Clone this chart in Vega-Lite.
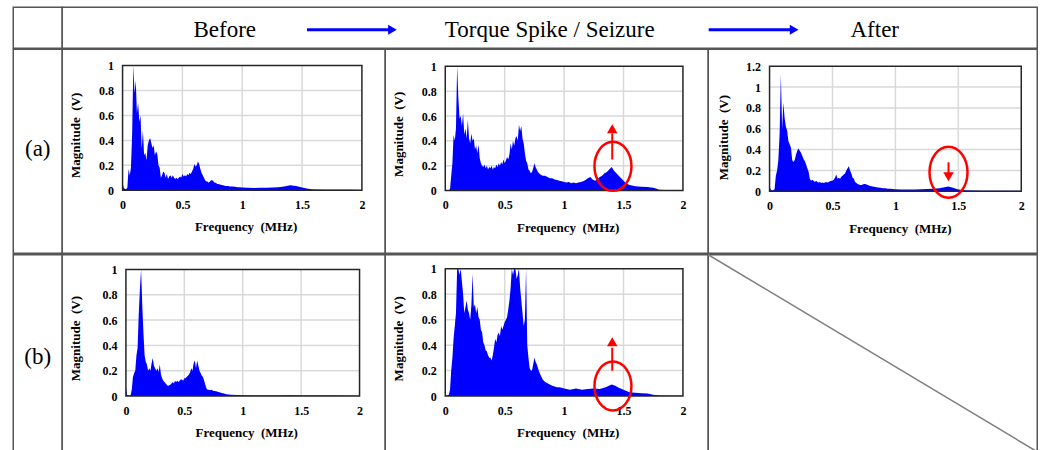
{
"$schema": "https://vega.github.io/schema/vega-lite/v6.json",
"background": "white",
"padding": {"left": 12.25, "top": 6.25, "right": 0, "bottom": 0},
"spacing": -1.5,
"config": {
  "view": {"stroke": "#555555", "strokeWidth": 1.5},
  "axis": {"domain": false, "ticks": false, "grid": false, "labelFont": "Liberation Serif", "labelFontWeight": "bold", "labelFontSize": 12, "labelColor": "#000000", "labelFlush": false, "labelOverlap": false, "tickCount": 20},
  "text": {"font": "Liberation Serif", "color": "#000000"}
},
"datasets": {
"a1": [{"f":0,"m":0.06},{"f":0.01,"m":0.02},{"f":0.02,"m":0.01},{"f":0.03,"m":0.01},{"f":0.04,"m":0.02},{"f":0.05,"m":0.17},{"f":0.06,"m":0.12},{"f":0.07,"m":0.18},{"f":0.08,"m":0.45},{"f":0.09,"m":1.0},{"f":0.1,"m":0.78},{"f":0.11,"m":0.88},{"f":0.12,"m":0.62},{"f":0.13,"m":0.7},{"f":0.14,"m":0.55},{"f":0.15,"m":0.6},{"f":0.16,"m":0.33},{"f":0.17,"m":0.48},{"f":0.18,"m":0.28},{"f":0.19,"m":0.3},{"f":0.2,"m":0.24},{"f":0.21,"m":0.36},{"f":0.22,"m":0.4},{"f":0.23,"m":0.42},{"f":0.24,"m":0.38},{"f":0.25,"m":0.34},{"f":0.26,"m":0.36},{"f":0.27,"m":0.28},{"f":0.28,"m":0.31},{"f":0.29,"m":0.29},{"f":0.3,"m":0.2},{"f":0.31,"m":0.18},{"f":0.32,"m":0.1},{"f":0.33,"m":0.12},{"f":0.34,"m":0.15},{"f":0.35,"m":0.14},{"f":0.36,"m":0.1},{"f":0.37,"m":0.13},{"f":0.38,"m":0.09},{"f":0.39,"m":0.11},{"f":0.4,"m":0.12},{"f":0.41,"m":0.1},{"f":0.42,"m":0.12},{"f":0.43,"m":0.1},{"f":0.44,"m":0.09},{"f":0.45,"m":0.1},{"f":0.46,"m":0.09},{"f":0.47,"m":0.1},{"f":0.48,"m":0.11},{"f":0.49,"m":0.1},{"f":0.5,"m":0.13},{"f":0.51,"m":0.11},{"f":0.52,"m":0.12},{"f":0.53,"m":0.11},{"f":0.54,"m":0.13},{"f":0.55,"m":0.12},{"f":0.56,"m":0.14},{"f":0.57,"m":0.13},{"f":0.58,"m":0.15},{"f":0.59,"m":0.17},{"f":0.6,"m":0.21},{"f":0.61,"m":0.19},{"f":0.62,"m":0.2},{"f":0.63,"m":0.23},{"f":0.64,"m":0.21},{"f":0.65,"m":0.17},{"f":0.66,"m":0.14},{"f":0.67,"m":0.12},{"f":0.68,"m":0.1},{"f":0.69,"m":0.08},{"f":0.7,"m":0.07},{"f":0.71,"m":0.07},{"f":0.72,"m":0.06},{"f":0.73,"m":0.07},{"f":0.74,"m":0.08},{"f":0.75,"m":0.08},{"f":0.76,"m":0.07},{"f":0.77,"m":0.06},{"f":0.78,"m":0.06},{"f":0.79,"m":0.05},{"f":0.8,"m":0.05},{"f":0.82,"m":0.045},{"f":0.84,"m":0.04},{"f":0.86,"m":0.035},{"f":0.88,"m":0.035},{"f":0.9,"m":0.03},{"f":0.92,"m":0.03},{"f":0.94,"m":0.028},{"f":0.96,"m":0.025},{"f":0.98,"m":0.025},{"f":1.0,"m":0.022},{"f":1.05,"m":0.02},{"f":1.1,"m":0.018},{"f":1.15,"m":0.02},{"f":1.2,"m":0.02},{"f":1.25,"m":0.022},{"f":1.3,"m":0.025},{"f":1.35,"m":0.03},{"f":1.4,"m":0.04},{"f":1.45,"m":0.035},{"f":1.5,"m":0.022},{"f":1.55,"m":0.012},{"f":1.6,"m":0.006},{"f":1.7,"m":0.005},{"f":1.8,"m":0.004},{"f":1.9,"m":0.004},{"f":2.0,"m":0.003}],
"a2": [{"f":0,"m":0.005},{"f":0.01,"m":0.005},{"f":0.02,"m":0.004},{"f":0.03,"m":0.005},{"f":0.04,"m":0.01},{"f":0.05,"m":0.12},{"f":0.06,"m":0.22},{"f":0.07,"m":0.45},{"f":0.08,"m":0.4},{"f":0.09,"m":0.5},{"f":0.1,"m":1.0},{"f":0.11,"m":0.75},{"f":0.12,"m":0.58},{"f":0.13,"m":0.6},{"f":0.14,"m":0.52},{"f":0.15,"m":0.62},{"f":0.16,"m":0.45},{"f":0.17,"m":0.5},{"f":0.18,"m":0.42},{"f":0.19,"m":0.57},{"f":0.2,"m":0.42},{"f":0.21,"m":0.38},{"f":0.22,"m":0.46},{"f":0.23,"m":0.4},{"f":0.24,"m":0.42},{"f":0.25,"m":0.33},{"f":0.26,"m":0.36},{"f":0.27,"m":0.3},{"f":0.28,"m":0.37},{"f":0.29,"m":0.26},{"f":0.3,"m":0.22},{"f":0.31,"m":0.2},{"f":0.32,"m":0.19},{"f":0.33,"m":0.21},{"f":0.34,"m":0.18},{"f":0.35,"m":0.2},{"f":0.36,"m":0.17},{"f":0.37,"m":0.19},{"f":0.38,"m":0.18},{"f":0.39,"m":0.2},{"f":0.4,"m":0.17},{"f":0.41,"m":0.19},{"f":0.42,"m":0.18},{"f":0.43,"m":0.21},{"f":0.44,"m":0.19},{"f":0.45,"m":0.22},{"f":0.46,"m":0.2},{"f":0.47,"m":0.23},{"f":0.48,"m":0.21},{"f":0.49,"m":0.25},{"f":0.5,"m":0.22},{"f":0.51,"m":0.24},{"f":0.52,"m":0.27},{"f":0.53,"m":0.25},{"f":0.54,"m":0.29},{"f":0.55,"m":0.38},{"f":0.56,"m":0.33},{"f":0.57,"m":0.4},{"f":0.58,"m":0.36},{"f":0.59,"m":0.42},{"f":0.6,"m":0.44},{"f":0.61,"m":0.4},{"f":0.62,"m":0.53},{"f":0.63,"m":0.48},{"f":0.64,"m":0.52},{"f":0.65,"m":0.42},{"f":0.66,"m":0.38},{"f":0.67,"m":0.3},{"f":0.68,"m":0.24},{"f":0.69,"m":0.22},{"f":0.7,"m":0.17},{"f":0.71,"m":0.16},{"f":0.72,"m":0.14},{"f":0.73,"m":0.15},{"f":0.74,"m":0.18},{"f":0.75,"m":0.22},{"f":0.76,"m":0.19},{"f":0.77,"m":0.17},{"f":0.78,"m":0.15},{"f":0.79,"m":0.14},{"f":0.8,"m":0.13},{"f":0.82,"m":0.12},{"f":0.84,"m":0.12},{"f":0.86,"m":0.11},{"f":0.88,"m":0.1},{"f":0.9,"m":0.1},{"f":0.92,"m":0.09},{"f":0.94,"m":0.085},{"f":0.96,"m":0.08},{"f":0.98,"m":0.075},{"f":1.0,"m":0.07},{"f":1.02,"m":0.065},{"f":1.04,"m":0.07},{"f":1.06,"m":0.06},{"f":1.08,"m":0.065},{"f":1.1,"m":0.06},{"f":1.12,"m":0.065},{"f":1.14,"m":0.07},{"f":1.16,"m":0.075},{"f":1.18,"m":0.085},{"f":1.2,"m":0.1},{"f":1.22,"m":0.11},{"f":1.24,"m":0.09},{"f":1.26,"m":0.08},{"f":1.28,"m":0.09},{"f":1.3,"m":0.11},{"f":1.32,"m":0.12},{"f":1.34,"m":0.14},{"f":1.36,"m":0.15},{"f":1.38,"m":0.17},{"f":1.4,"m":0.19},{"f":1.42,"m":0.16},{"f":1.44,"m":0.14},{"f":1.46,"m":0.12},{"f":1.48,"m":0.1},{"f":1.5,"m":0.08},{"f":1.52,"m":0.06},{"f":1.55,"m":0.045},{"f":1.6,"m":0.035},{"f":1.65,"m":0.03},{"f":1.7,"m":0.028},{"f":1.75,"m":0.022},{"f":1.78,"m":0.015},{"f":1.8,"m":0.006},{"f":1.9,"m":0.003},{"f":2.0,"m":0.002}],
"a3": [{"f":0,"m":0.05},{"f":0.01,"m":0.015},{"f":0.02,"m":0.01},{"f":0.03,"m":0.01},{"f":0.04,"m":0.02},{"f":0.05,"m":0.15},{"f":0.06,"m":0.2},{"f":0.07,"m":0.3},{"f":0.08,"m":0.55},{"f":0.09,"m":1.12},{"f":0.1,"m":0.6},{"f":0.11,"m":0.85},{"f":0.12,"m":0.7},{"f":0.13,"m":0.62},{"f":0.14,"m":0.58},{"f":0.15,"m":0.48},{"f":0.16,"m":0.45},{"f":0.17,"m":0.42},{"f":0.18,"m":0.3},{"f":0.19,"m":0.28},{"f":0.2,"m":0.3},{"f":0.21,"m":0.35},{"f":0.22,"m":0.39},{"f":0.23,"m":0.41},{"f":0.24,"m":0.39},{"f":0.25,"m":0.37},{"f":0.26,"m":0.34},{"f":0.27,"m":0.31},{"f":0.28,"m":0.29},{"f":0.29,"m":0.26},{"f":0.3,"m":0.22},{"f":0.31,"m":0.19},{"f":0.32,"m":0.12},{"f":0.33,"m":0.1},{"f":0.34,"m":0.11},{"f":0.35,"m":0.1},{"f":0.36,"m":0.09},{"f":0.37,"m":0.1},{"f":0.38,"m":0.09},{"f":0.39,"m":0.085},{"f":0.4,"m":0.09},{"f":0.41,"m":0.08},{"f":0.42,"m":0.085},{"f":0.43,"m":0.08},{"f":0.44,"m":0.085},{"f":0.45,"m":0.09},{"f":0.46,"m":0.085},{"f":0.47,"m":0.09},{"f":0.48,"m":0.095},{"f":0.49,"m":0.1},{"f":0.5,"m":0.1},{"f":0.51,"m":0.11},{"f":0.52,"m":0.13},{"f":0.53,"m":0.16},{"f":0.54,"m":0.12},{"f":0.55,"m":0.13},{"f":0.56,"m":0.12},{"f":0.57,"m":0.14},{"f":0.58,"m":0.15},{"f":0.59,"m":0.16},{"f":0.6,"m":0.17},{"f":0.61,"m":0.2},{"f":0.62,"m":0.22},{"f":0.63,"m":0.24},{"f":0.64,"m":0.2},{"f":0.65,"m":0.17},{"f":0.66,"m":0.13},{"f":0.67,"m":0.12},{"f":0.68,"m":0.09},{"f":0.69,"m":0.08},{"f":0.7,"m":0.07},{"f":0.71,"m":0.065},{"f":0.72,"m":0.06},{"f":0.73,"m":0.06},{"f":0.74,"m":0.065},{"f":0.75,"m":0.07},{"f":0.76,"m":0.07},{"f":0.77,"m":0.065},{"f":0.78,"m":0.06},{"f":0.79,"m":0.055},{"f":0.8,"m":0.05},{"f":0.82,"m":0.045},{"f":0.84,"m":0.04},{"f":0.86,"m":0.035},{"f":0.88,"m":0.033},{"f":0.9,"m":0.03},{"f":0.92,"m":0.028},{"f":0.94,"m":0.025},{"f":0.96,"m":0.023},{"f":0.98,"m":0.022},{"f":1.0,"m":0.02},{"f":1.05,"m":0.018},{"f":1.1,"m":0.017},{"f":1.15,"m":0.018},{"f":1.2,"m":0.02},{"f":1.25,"m":0.022},{"f":1.3,"m":0.025},{"f":1.35,"m":0.03},{"f":1.4,"m":0.04},{"f":1.42,"m":0.045},{"f":1.45,"m":0.035},{"f":1.5,"m":0.018},{"f":1.55,"m":0.01},{"f":1.6,"m":0.008},{"f":1.7,"m":0.006},{"f":1.8,"m":0.005},{"f":1.9,"m":0.005},{"f":2.0,"m":0.004}],
"b1": [{"f":0,"m":0.08},{"f":0.01,"m":0.01},{"f":0.02,"m":0.005},{"f":0.03,"m":0.005},{"f":0.04,"m":0.005},{"f":0.05,"m":0.05},{"f":0.06,"m":0.15},{"f":0.07,"m":0.18},{"f":0.08,"m":0.2},{"f":0.09,"m":0.32},{"f":0.1,"m":0.38},{"f":0.11,"m":0.65},{"f":0.12,"m":0.85},{"f":0.13,"m":1.0},{"f":0.14,"m":0.72},{"f":0.15,"m":0.5},{"f":0.16,"m":0.32},{"f":0.17,"m":0.27},{"f":0.18,"m":0.25},{"f":0.19,"m":0.2},{"f":0.2,"m":0.22},{"f":0.21,"m":0.2},{"f":0.22,"m":0.26},{"f":0.23,"m":0.3},{"f":0.24,"m":0.24},{"f":0.25,"m":0.22},{"f":0.26,"m":0.2},{"f":0.27,"m":0.22},{"f":0.28,"m":0.19},{"f":0.29,"m":0.25},{"f":0.3,"m":0.17},{"f":0.31,"m":0.14},{"f":0.32,"m":0.12},{"f":0.33,"m":0.11},{"f":0.34,"m":0.1},{"f":0.35,"m":0.09},{"f":0.36,"m":0.08},{"f":0.37,"m":0.085},{"f":0.38,"m":0.09},{"f":0.39,"m":0.1},{"f":0.4,"m":0.11},{"f":0.41,"m":0.1},{"f":0.42,"m":0.12},{"f":0.43,"m":0.11},{"f":0.44,"m":0.12},{"f":0.45,"m":0.11},{"f":0.46,"m":0.12},{"f":0.47,"m":0.13},{"f":0.48,"m":0.13},{"f":0.49,"m":0.12},{"f":0.5,"m":0.14},{"f":0.51,"m":0.14},{"f":0.52,"m":0.15},{"f":0.53,"m":0.16},{"f":0.54,"m":0.17},{"f":0.55,"m":0.19},{"f":0.56,"m":0.22},{"f":0.57,"m":0.2},{"f":0.58,"m":0.26},{"f":0.59,"m":0.28},{"f":0.6,"m":0.22},{"f":0.61,"m":0.28},{"f":0.62,"m":0.24},{"f":0.63,"m":0.2},{"f":0.64,"m":0.18},{"f":0.65,"m":0.16},{"f":0.66,"m":0.15},{"f":0.67,"m":0.12},{"f":0.68,"m":0.09},{"f":0.69,"m":0.06},{"f":0.7,"m":0.05},{"f":0.71,"m":0.05},{"f":0.72,"m":0.045},{"f":0.73,"m":0.05},{"f":0.74,"m":0.045},{"f":0.75,"m":0.04},{"f":0.76,"m":0.04},{"f":0.77,"m":0.038},{"f":0.78,"m":0.035},{"f":0.79,"m":0.032},{"f":0.8,"m":0.03},{"f":0.82,"m":0.025},{"f":0.84,"m":0.02},{"f":0.86,"m":0.015},{"f":0.88,"m":0.012},{"f":0.9,"m":0.01},{"f":0.95,"m":0.008},{"f":1.0,"m":0.006},{"f":1.1,"m":0.005},{"f":1.2,"m":0.005},{"f":1.3,"m":0.005},{"f":1.4,"m":0.006},{"f":1.5,"m":0.005},{"f":1.6,"m":0.004},{"f":1.8,"m":0.004},{"f":2.0,"m":0.003}],
"b2": [{"f":0,"m":0.005},{"f":0.01,"m":0.005},{"f":0.02,"m":0.004},{"f":0.03,"m":0.01},{"f":0.04,"m":0.05},{"f":0.05,"m":0.2},{"f":0.06,"m":0.3},{"f":0.07,"m":0.45},{"f":0.08,"m":0.55},{"f":0.09,"m":0.65},{"f":0.1,"m":1.0},{"f":0.11,"m":1.0},{"f":0.12,"m":0.95},{"f":0.13,"m":1.0},{"f":0.14,"m":0.9},{"f":0.15,"m":0.8},{"f":0.16,"m":0.65},{"f":0.17,"m":0.7},{"f":0.18,"m":0.75},{"f":0.19,"m":0.68},{"f":0.2,"m":0.65},{"f":0.21,"m":0.6},{"f":0.22,"m":0.72},{"f":0.23,"m":0.96},{"f":0.24,"m":0.7},{"f":0.25,"m":0.72},{"f":0.26,"m":0.65},{"f":0.27,"m":0.7},{"f":0.28,"m":0.62},{"f":0.29,"m":0.6},{"f":0.3,"m":0.52},{"f":0.31,"m":0.5},{"f":0.32,"m":0.42},{"f":0.33,"m":0.4},{"f":0.34,"m":0.36},{"f":0.35,"m":0.35},{"f":0.36,"m":0.32},{"f":0.37,"m":0.3},{"f":0.38,"m":0.3},{"f":0.39,"m":0.28},{"f":0.4,"m":0.32},{"f":0.41,"m":0.38},{"f":0.42,"m":0.45},{"f":0.43,"m":0.42},{"f":0.44,"m":0.48},{"f":0.45,"m":0.5},{"f":0.46,"m":0.47},{"f":0.47,"m":0.55},{"f":0.48,"m":0.52},{"f":0.49,"m":0.55},{"f":0.5,"m":0.58},{"f":0.51,"m":0.6},{"f":0.52,"m":0.62},{"f":0.53,"m":0.68},{"f":0.54,"m":0.75},{"f":0.55,"m":0.85},{"f":0.56,"m":1.0},{"f":0.57,"m":0.95},{"f":0.58,"m":1.0},{"f":0.59,"m":1.0},{"f":0.6,"m":0.92},{"f":0.61,"m":0.95},{"f":0.62,"m":1.0},{"f":0.63,"m":0.85},{"f":0.64,"m":0.75},{"f":0.65,"m":0.65},{"f":0.66,"m":0.55},{"f":0.67,"m":0.6},{"f":0.68,"m":1.0},{"f":0.69,"m":0.4},{"f":0.7,"m":0.3},{"f":0.71,"m":0.22},{"f":0.72,"m":0.2},{"f":0.73,"m":0.2},{"f":0.74,"m":0.25},{"f":0.75,"m":0.3},{"f":0.76,"m":0.27},{"f":0.77,"m":0.25},{"f":0.78,"m":0.22},{"f":0.79,"m":0.19},{"f":0.8,"m":0.17},{"f":0.82,"m":0.13},{"f":0.84,"m":0.11},{"f":0.86,"m":0.1},{"f":0.88,"m":0.09},{"f":0.9,"m":0.08},{"f":0.92,"m":0.075},{"f":0.94,"m":0.07},{"f":0.96,"m":0.07},{"f":0.98,"m":0.065},{"f":1.0,"m":0.06},{"f":1.05,"m":0.05},{"f":1.1,"m":0.06},{"f":1.15,"m":0.05},{"f":1.2,"m":0.055},{"f":1.25,"m":0.06},{"f":1.3,"m":0.055},{"f":1.35,"m":0.07},{"f":1.4,"m":0.09},{"f":1.43,"m":0.08},{"f":1.46,"m":0.065},{"f":1.5,"m":0.05},{"f":1.55,"m":0.03},{"f":1.6,"m":0.025},{"f":1.65,"m":0.022},{"f":1.7,"m":0.02},{"f":1.75,"m":0.01},{"f":1.8,"m":0.004},{"f":1.9,"m":0.003},{"f":2.0,"m":0.002}]
},
"vconcat": [
{
  "hconcat": [
    {"width": 49, "height": 41, "data": {"values": [{"t": ""}]}, "mark": "text",
     "encoding": {"text": {"field": "t"}, "x": {"datum": 0.5, "scale": {"domain": [0, 1], "nice": false, "zero": false}, "axis": null}, "y": {"datum": 0.5, "scale": {"domain": [0, 1], "nice": false, "zero": false}, "axis": null}}},
    {"width": 975, "height": 41,
     "layer": [
      {"data": {"values": [{"stage": 1, "label": "Before"}, {"stage": 2, "label": "Torque Spike / Seizure"}, {"stage": 3, "label": "After"}]},
       "mark": {"type": "text", "fontSize": 23},
       "encoding": {"text": {"field": "label"}, "x": {"field": "stage", "type": "quantitative", "scale": {"domain": [0.5, 3.5], "nice": false, "zero": false}, "axis": null}, "y": {"datum": 0.451, "scale": {"domain": [0, 1], "nice": false, "zero": false}, "axis": null}}},
      {"data": {"values": [{}]}, "mark": {"type": "rule", "color": "#0000ff", "strokeWidth": 3}, "encoding": {"x": {"datum": 1.253}, "x2": {"datum": 1.51}, "y": {"datum": 0.451}}},
      {"data": {"values": [{}]}, "mark": {"type": "point", "shape": "triangle-right", "size": 100, "filled": true, "color": "#0000ff", "opacity": 1}, "encoding": {"x": {"datum": 1.516}, "y": {"datum": 0.451}}},
      {"data": {"values": [{}]}, "mark": {"type": "rule", "color": "#0000ff", "strokeWidth": 3}, "encoding": {"x": {"datum": 2.489}, "x2": {"datum": 2.745}, "y": {"datum": 0.451}}},
      {"data": {"values": [{}]}, "mark": {"type": "point", "shape": "triangle-right", "size": 100, "filled": true, "color": "#0000ff", "opacity": 1}, "encoding": {"x": {"datum": 2.752}, "y": {"datum": 0.451}}}
     ]}
  ],
  "spacing": 0, "bounds": "flush"
},
{
  "hconcat": [
    {"width": 49, "height": 204, "data": {"values": [{"t": "(a)"}]}, "mark": {"type": "text", "fontSize": 23},
     "encoding": {"text": {"field": "t"}, "x": {"datum": 0.5, "scale": {"domain": [0, 1], "nice": false, "zero": false}, "axis": null}, "y": {"datum": 0.51, "scale": {"domain": [0, 1], "nice": false, "zero": false}, "axis": null}}},
    {"width": 323, "height": 204,
     "layer": [
      {"data": {"values": [{"g": 0.5}, {"g": 1}, {"g": 1.5}]}, "mark": {"type": "rule", "color": "#d9d9d9", "strokeWidth": 1.5}, "encoding": {"x": {"field": "g", "type": "quantitative"}, "y": {"datum": 0}, "y2": {"datum": 1}}},
      {"data": {"values": [{"g": 0.2}, {"g": 0.4}, {"g": 0.6}, {"g": 0.8}]}, "mark": {"type": "rule", "color": "#d9d9d9", "strokeWidth": 1.5}, "encoding": {"y": {"field": "g", "type": "quantitative"}, "x": {"datum": 0}, "x2": {"datum": 2}}},
      {"data": {"name": "a1"}, "mark": {"type": "area", "color": "#0000ff", "opacity": 1},
       "encoding": {
        "x": {"field": "f", "type": "quantitative", "scale": {"domain": [-0.504, 2.195], "nice": false, "zero": false}, "axis": {"values": [0, 0.5, 1, 1.5, 2], "format": "~g", "offset": -63, "labelPadding": 9, "title": null, "tickCount": 20}},
        "y": {"field": "m", "type": "quantitative", "scale": {"domain": [-0.505, 1.131], "nice": false, "zero": false}, "axis": {"values": [0, 0.2, 0.4, 0.6, 0.8, 1], "format": "~g", "offset": -60.3, "labelPadding": 9, "title": null, "tickCount": 20}},
        "y2": {"datum": 0}}},
      {"data": {"values": [{}]}, "mark": {"type": "rect", "fillOpacity": 0, "stroke": "#262626", "strokeWidth": 1.5}, "encoding": {"x": {"datum": 0}, "x2": {"datum": 2}, "y": {"datum": 0}, "y2": {"datum": 1}}},
      {"data": {"values": [{}]}, "mark": {"type": "text", "text": "Frequency\u00a0 (MHz)", "fontWeight": "bold", "fontSize": 13}, "encoding": {"x": {"datum": 1.032}, "y": {"datum": -0.297}}},
      {"data": {"values": [{}]}, "mark": {"type": "text", "text": "Magnitude\u00a0 (V)", "fontWeight": "bold", "fontSize": 13, "angle": 270}, "encoding": {"x": {"datum": -0.387}, "y": {"datum": 0.441}}}
     ]},
    {"width": 323, "height": 204,
     "layer": [
      {"data": {"values": [{"g": 0.5}, {"g": 1}, {"g": 1.5}]}, "mark": {"type": "rule", "color": "#d9d9d9", "strokeWidth": 1.5}, "encoding": {"x": {"field": "g", "type": "quantitative"}, "y": {"datum": 0}, "y2": {"datum": 1}}},
      {"data": {"values": [{"g": 0.2}, {"g": 0.4}, {"g": 0.6}, {"g": 0.8}]}, "mark": {"type": "rule", "color": "#d9d9d9", "strokeWidth": 1.5}, "encoding": {"y": {"field": "g", "type": "quantitative"}, "x": {"datum": 0}, "x2": {"datum": 2}}},
      {"data": {"name": "a2"}, "mark": {"type": "area", "color": "#0000ff", "opacity": 1},
       "encoding": {
        "x": {"field": "f", "type": "quantitative", "scale": {"domain": [-0.505, 2.213], "nice": false, "zero": false}, "axis": {"values": [0, 0.5, 1, 1.5, 2], "format": "~g", "offset": -62.7, "labelPadding": 9, "title": null, "tickCount": 20}},
        "y": {"field": "m", "type": "quantitative", "scale": {"domain": [-0.504, 1.137], "nice": false, "zero": false}, "axis": {"values": [0, 0.2, 0.4, 0.6, 0.8, 1], "format": "~g", "offset": -60, "labelPadding": 9, "title": null, "tickCount": 20}},
        "y2": {"datum": 0}}},
      {"data": {"values": [{}]}, "mark": {"type": "rect", "fillOpacity": 0, "stroke": "#262626", "strokeWidth": 1.5}, "encoding": {"x": {"datum": 0}, "x2": {"datum": 2}, "y": {"datum": 0}, "y2": {"datum": 1}}},
      {"data": {"values": [{}]}, "mark": {"type": "text", "text": "Frequency\u00a0 (MHz)", "fontWeight": "bold", "fontSize": 13}, "encoding": {"x": {"datum": 1.035}, "y": {"datum": -0.301}}},
      {"data": {"values": [{}]}, "mark": {"type": "text", "text": "Magnitude\u00a0 (V)", "fontWeight": "bold", "fontSize": 13, "angle": 270}, "encoding": {"x": {"datum": -0.387}, "y": {"datum": 0.453}}},
      {"data": {"values": [{}]}, "mark": {"type": "point", "shape": "M -0.755 0 A 0.755 1 0 1 0 0.755 0 A 0.755 1 0 1 0 -0.755 0 Z", "size": 2401, "filled": false, "stroke": "#ff0000", "strokeWidth": 2.5, "opacity": 1}, "encoding": {"x": {"datum": 1.411}, "y": {"datum": 0.195}}},
      {"data": {"values": [{}]}, "mark": {"type": "rule", "color": "#ff0000", "strokeWidth": 2}, "encoding": {"x": {"datum": 1.405}, "y": {"datum": 0.25}, "y2": {"datum": 0.46}}},
      {"data": {"values": [{}]}, "mark": {"type": "point", "shape": "triangle-up", "size": 110, "filled": true, "color": "#ff0000", "opacity": 1}, "encoding": {"x": {"datum": 1.405}, "y": {"datum": 0.497}}}
     ]},
    {"width": 329, "height": 204,
     "layer": [
      {"data": {"values": [{"g": 0.5}, {"g": 1}, {"g": 1.5}]}, "mark": {"type": "rule", "color": "#d9d9d9", "strokeWidth": 1.5}, "encoding": {"x": {"field": "g", "type": "quantitative"}, "y": {"datum": 0}, "y2": {"datum": 1.2}}},
      {"data": {"values": [{"g": 0.2}, {"g": 0.4}, {"g": 0.6}, {"g": 0.8}, {"g": 1.0}]}, "mark": {"type": "rule", "color": "#d9d9d9", "strokeWidth": 1.5}, "encoding": {"y": {"field": "g", "type": "quantitative"}, "x": {"datum": 0}, "x2": {"datum": 2}}},
      {"data": {"name": "a3"}, "mark": {"type": "area", "color": "#0000ff", "opacity": 1},
       "encoding": {
        "x": {"field": "f", "type": "quantitative", "scale": {"domain": [-0.487, 2.127], "nice": false, "zero": false}, "axis": {"values": [0, 0.5, 1, 1.5, 2], "format": "~g", "offset": -62, "labelPadding": 9, "title": null, "tickCount": 20}},
        "y": {"field": "m", "type": "quantitative", "scale": {"domain": [-0.595, 1.363], "nice": false, "zero": false}, "axis": {"values": [0, 0.2, 0.4, 0.6, 0.8, 1, 1.2], "format": "~g", "offset": -61.3, "labelPadding": 9, "title": null, "tickCount": 20}},
        "y2": {"datum": 0}}},
      {"data": {"values": [{}]}, "mark": {"type": "rect", "fillOpacity": 0, "stroke": "#262626", "strokeWidth": 1.5}, "encoding": {"x": {"datum": 0}, "x2": {"datum": 2}, "y": {"datum": 0}, "y2": {"datum": 1.2}}},
      {"data": {"values": [{}]}, "mark": {"type": "text", "text": "Frequency\u00a0 (MHz)", "fontWeight": "bold", "fontSize": 13}, "encoding": {"x": {"datum": 1.039}, "y": {"datum": -0.358}}},
      {"data": {"values": [{}]}, "mark": {"type": "text", "text": "Magnitude\u00a0 (V)", "fontWeight": "bold", "fontSize": 13, "angle": 270}, "encoding": {"x": {"datum": -0.36}, "y": {"datum": 0.515}}},
      {"data": {"values": [{}]}, "mark": {"type": "point", "shape": "M -0.745 0 A 0.745 1 0 1 0 0.745 0 A 0.745 1 0 1 0 -0.745 0 Z", "size": 2601, "filled": false, "stroke": "#ff0000", "strokeWidth": 2.5, "opacity": 1}, "encoding": {"x": {"datum": 1.422}, "y": {"datum": 0.182}}},
      {"data": {"values": [{}]}, "mark": {"type": "rule", "color": "#ff0000", "strokeWidth": 2}, "encoding": {"x": {"datum": 1.422}, "y": {"datum": 0.278}, "y2": {"datum": 0.17}}},
      {"data": {"values": [{}]}, "mark": {"type": "point", "shape": "triangle-down", "size": 110, "filled": true, "color": "#ff0000", "opacity": 1}, "encoding": {"x": {"datum": 1.422}, "y": {"datum": 0.139}}}
     ]}
  ],
  "spacing": 0, "bounds": "flush"
},
{
  "hconcat": [
    {"width": 49, "height": 197, "data": {"values": [{"t": "(b)"}]}, "mark": {"type": "text", "fontSize": 23},
     "encoding": {"text": {"field": "t"}, "x": {"datum": 0.5, "scale": {"domain": [0, 1], "nice": false, "zero": false}, "axis": null}, "y": {"datum": 0.48, "scale": {"domain": [0, 1], "nice": false, "zero": false}, "axis": null}}},
    {"width": 323, "height": 197,
     "layer": [
      {"data": {"values": [{"g": 0.5}, {"g": 1}, {"g": 1.5}]}, "mark": {"type": "rule", "color": "#d9d9d9", "strokeWidth": 1.5}, "encoding": {"x": {"field": "g", "type": "quantitative"}, "y": {"datum": 0}, "y2": {"datum": 1}}},
      {"data": {"values": [{"g": 0.2}, {"g": 0.4}, {"g": 0.6}, {"g": 0.8}]}, "mark": {"type": "rule", "color": "#d9d9d9", "strokeWidth": 1.5}, "encoding": {"y": {"field": "g", "type": "quantitative"}, "x": {"datum": 0}, "x2": {"datum": 2}}},
      {"data": {"name": "b1"}, "mark": {"type": "area", "color": "#0000ff", "opacity": 1},
       "encoding": {
        "x": {"field": "f", "type": "quantitative", "scale": {"domain": [-0.545, 2.22], "nice": false, "zero": false}, "axis": {"values": [0, 0.5, 1, 1.5, 2], "format": "~g", "offset": -55.7, "labelPadding": 9, "title": null, "tickCount": 20}},
        "y": {"field": "m", "type": "quantitative", "scale": {"domain": [-0.44, 1.116], "nice": false, "zero": false}, "axis": {"values": [0, 0.2, 0.4, 0.6, 0.8, 1], "format": "~g", "offset": -63.7, "labelPadding": 9, "title": null, "tickCount": 20}},
        "y2": {"datum": 0}}},
      {"data": {"values": [{}]}, "mark": {"type": "rect", "fillOpacity": 0, "stroke": "#262626", "strokeWidth": 1.5}, "encoding": {"x": {"datum": 0}, "x2": {"datum": 2}, "y": {"datum": 0}, "y2": {"datum": 1}}},
      {"data": {"values": [{}]}, "mark": {"type": "text", "text": "Frequency\u00a0 (MHz)", "fontWeight": "bold", "fontSize": 13}, "encoding": {"x": {"datum": 1.033}, "y": {"datum": -0.29}}},
      {"data": {"values": [{}]}, "mark": {"type": "text", "text": "Magnitude\u00a0 (V)", "fontWeight": "bold", "fontSize": 13, "angle": 270}, "encoding": {"x": {"datum": -0.427}, "y": {"datum": 0.454}}}
     ]},
    {"width": 323, "height": 197,
     "layer": [
      {"data": {"values": [{"g": 0.5}, {"g": 1}, {"g": 1.5}]}, "mark": {"type": "rule", "color": "#d9d9d9", "strokeWidth": 1.5}, "encoding": {"x": {"field": "g", "type": "quantitative"}, "y": {"datum": 0}, "y2": {"datum": 1}}},
      {"data": {"values": [{"g": 0.2}, {"g": 0.4}, {"g": 0.6}, {"g": 0.8}]}, "mark": {"type": "rule", "color": "#d9d9d9", "strokeWidth": 1.5}, "encoding": {"y": {"field": "g", "type": "quantitative"}, "x": {"datum": 0}, "x2": {"datum": 2}}},
      {"data": {"name": "b2"}, "mark": {"type": "area", "color": "#0000ff", "opacity": 1},
       "encoding": {
        "x": {"field": "f", "type": "quantitative", "scale": {"domain": [-0.505, 2.213], "nice": false, "zero": false}, "axis": {"values": [0, 0.5, 1, 1.5, 2], "format": "~g", "offset": -55.7, "labelPadding": 9, "title": null, "tickCount": 20}},
        "y": {"field": "m", "type": "quantitative", "scale": {"domain": [-0.4375, 1.11], "nice": false, "zero": false}, "axis": {"values": [0, 0.2, 0.4, 0.6, 0.8, 1], "format": "~g", "offset": -60, "labelPadding": 9, "title": null, "tickCount": 20}},
        "y2": {"datum": 0}}},
      {"data": {"values": [{}]}, "mark": {"type": "rect", "fillOpacity": 0, "stroke": "#262626", "strokeWidth": 1.5}, "encoding": {"x": {"datum": 0}, "x2": {"datum": 2}, "y": {"datum": 0}, "y2": {"datum": 1}}},
      {"data": {"values": [{}]}, "mark": {"type": "text", "text": "Frequency\u00a0 (MHz)", "fontWeight": "bold", "fontSize": 13}, "encoding": {"x": {"datum": 1.035}, "y": {"datum": -0.288}}},
      {"data": {"values": [{}]}, "mark": {"type": "text", "text": "Magnitude\u00a0 (V)", "fontWeight": "bold", "fontSize": 13, "angle": 270}, "encoding": {"x": {"datum": -0.393}, "y": {"datum": 0.45}}},
      {"data": {"values": [{}]}, "mark": {"type": "point", "shape": "M -0.755 0 A 0.755 1 0 1 0 0.755 0 A 0.755 1 0 1 0 -0.755 0 Z", "size": 2401, "filled": false, "stroke": "#ff0000", "strokeWidth": 2.5, "opacity": 1}, "encoding": {"x": {"datum": 1.411}, "y": {"datum": 0.079}}},
      {"data": {"values": [{}]}, "mark": {"type": "rule", "color": "#ff0000", "strokeWidth": 2}, "encoding": {"x": {"datum": 1.405}, "y": {"datum": 0.199}, "y2": {"datum": 0.38}}},
      {"data": {"values": [{}]}, "mark": {"type": "point", "shape": "triangle-up", "size": 110, "filled": true, "color": "#ff0000", "opacity": 1}, "encoding": {"x": {"datum": 1.405}, "y": {"datum": 0.427}}}
     ]},
    {"width": 329, "height": 197,
     "data": {"values": [{}]},
     "mark": {"type": "rule", "color": "#808080", "strokeWidth": 1.5},
     "encoding": {"x": {"datum": 0, "scale": {"domain": [0, 1], "nice": false, "zero": false}, "axis": null}, "x2": {"datum": 1}, "y": {"datum": 1, "scale": {"domain": [0, 1], "nice": false, "zero": false}, "axis": null}, "y2": {"datum": 0}}}
  ],
  "spacing": 0, "bounds": "flush"
}
]
}
